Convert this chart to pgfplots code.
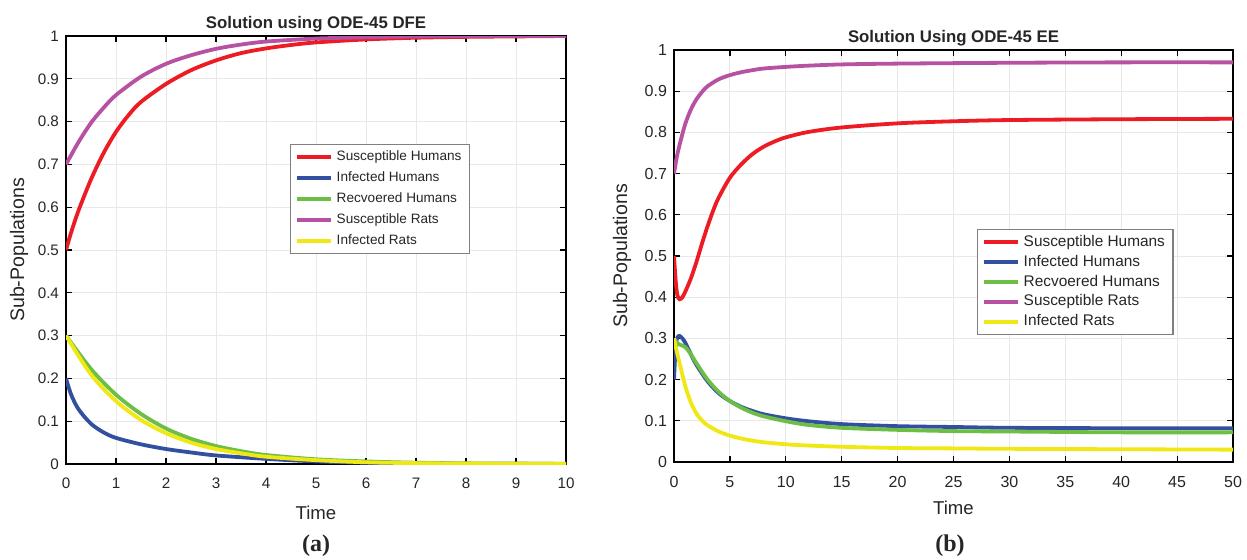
\documentclass[border=0pt]{standalone}
\usepackage{pgfplots}
\pgfplotsset{compat=1.18}
\usepackage{fontspec}
\setmainfont{Liberation Sans}
\newfontfamily\serifb{Liberation Serif}
\definecolor{cS}{RGB}{237,28,36}
\definecolor{cI}{RGB}{51,79,160}
\definecolor{cR}{RGB}{108,190,69}
\definecolor{cSR}{RGB}{183,82,162}
\definecolor{cIR}{RGB}{240,232,20}
\pgfplotsset{
  matstyle/.style={
    scale only axis,
    axis line style={black, line width=0.6pt},
    tick style={black, line width=0.6pt},
    tick align=inside,
    major tick length=3pt,
    xtick pos=both, ytick pos=both,
    grid=major,
    major grid style={gray!18, line width=0.5pt},
    ymin=0, ymax=1,
    ytick={0,0.1,...,1.0},
    yticklabels={0,0.1,0.2,0.3,0.4,0.5,0.6,0.7,0.8,0.9,1},
    tick label style={text=black!85},
    xticklabel style={yshift=-3.5pt},
    /pgf/number format/assume math mode=true,
    xlabel style={font=\fontsize{9.3}{10}\selectfont, text=black!85},
    ylabel style={font=\fontsize{9.8}{10}\selectfont, text=black!85},
    title style={font=\fontsize{8.4}{9}\selectfont\bfseries, text=black!85,
      at={(axis description cs:0.5,1)}, anchor=center},
    ylabel={Sub-Populations},
    xlabel={Time},
    legend cell align=left,
    legend style={draw=gray, line width=0.6pt, fill=white, text=black!85,
      inner xsep=2pt, inner ysep=1pt},
    legend image code/.code={\draw[line width=2pt] (0cm,0cm) -- (0.6cm,0cm);},
    every axis plot/.append style={line width=1.9pt, no marks, smooth},
  }
}
\begin{document}
\begin{tikzpicture}
\useasboundingbox (0,0) rectangle (623.5pt,279.5pt);
% (a)
\begin{axis}[matstyle,
  at={(33pt,47.5pt)}, anchor=origin,
  width=250pt, height=214pt,
  xmin=0, xmax=10, xtick={0,1,...,10},
  title={Solution using ODE-45 DFE},
  tick label style={font=\fontsize{7.6}{8}\selectfont},
  xlabel style={at={(axis description cs:0.5,-0.115)}, anchor=center},
  ylabel style={at={(axis description cs:-0.094,0.5)}, anchor=center},
  legend style={at={(axis description cs:0.448,0.748)}, anchor=north west,
    font=\fontsize{6.8}{8}\selectfont, row sep=0.1pt},
]
\addplot[cS] coordinates {(0,0.5) (0.1,0.54) (0.25,0.592) (0.5,0.665) (0.75,0.726) (1,0.776) (1.25,0.815) (1.5,0.846) (2,0.888) (2.5,0.92) (3,0.943) (3.5,0.96) (4,0.971) (4.5,0.979) (5,0.985) (6,0.992) (7,0.996) (8,0.998) (9,0.999) (10,1.0)};
\addplot[cI] coordinates {(0,0.2) (0.1,0.163) (0.25,0.128) (0.5,0.094) (0.75,0.074) (1,0.061) (1.5,0.046) (2,0.035) (2.5,0.027) (3,0.020) (4,0.012) (5,0.006) (6,0.003) (7,0.0015) (8,0.0007) (10,0.0002)};
\addplot[cR] coordinates {(0,0.3) (0.5,0.222) (1,0.162) (1.5,0.117) (2,0.083) (2.5,0.059) (3,0.042) (3.5,0.030) (4,0.021) (5,0.011) (6,0.006) (7,0.003) (8,0.0015) (10,0.0005)};
\addplot[cSR] coordinates {(0,0.7) (0.25,0.752) (0.5,0.797) (0.75,0.832) (1,0.862) (1.5,0.905) (2,0.935) (2.5,0.955) (3,0.970) (3.5,0.980) (4,0.987) (5,0.994) (6,0.997) (7,0.999) (8,1.0) (10,1.0)};
\addplot[cIR] coordinates {(0,0.3) (0.5,0.209) (1,0.147) (1.5,0.103) (2,0.072) (2.5,0.050) (3,0.035) (3.5,0.025) (4,0.017) (5,0.009) (6,0.004) (7,0.002) (8,0.001) (10,0.0003)};
\legend{Susceptible Humans, Infected Humans, Recvoered Humans, Susceptible Rats, Infected Rats}
\end{axis}
% (b)
\begin{axis}[matstyle,
  at={(337pt,48.5pt)}, anchor=origin,
  width=279.5pt, height=206pt,
  xmin=0, xmax=50, xtick={0,5,...,50},
  title={Solution Using ODE-45 EE},
  tick label style={font=\fontsize{8}{9}\selectfont},
  xlabel style={at={(axis description cs:0.5,-0.112)}, anchor=center},
  ylabel style={at={(axis description cs:-0.093,0.5)}, anchor=center},
  legend style={at={(axis description cs:0.542,0.566)}, anchor=north west,
    font=\fontsize{7.7}{9}\selectfont, row sep=-1.2pt},
]
\addplot[cS] coordinates {(0,0.5) (0.15,0.44) (0.3,0.405) (0.5,0.395) (0.75,0.40) (1,0.413) (1.5,0.445) (2,0.485) (2.5,0.53) (3,0.572) (3.5,0.61) (4,0.642) (5,0.69) (6,0.722) (7,0.747) (8,0.765) (9,0.778) (10,0.788) (12,0.801) (15,0.812) (20,0.822) (25,0.827) (30,0.830) (40,0.832) (50,0.833)};
\addplot[cI] coordinates {(0,0.2) (0.15,0.28) (0.3,0.302) (0.5,0.306) (0.75,0.30) (1,0.29) (1.5,0.262) (2,0.236) (3,0.196) (4,0.167) (5,0.148) (6,0.134) (7,0.124) (8,0.116) (10,0.106) (12,0.099) (15,0.092) (20,0.087) (25,0.085) (30,0.083) (40,0.082) (50,0.082)};
\addplot[cR] coordinates {(0,0.3) (0.3,0.288) (0.6,0.284) (1,0.279) (1.5,0.262) (2,0.24) (3,0.2) (4,0.17) (5,0.148) (6,0.132) (7,0.12) (8,0.111) (10,0.099) (12,0.09) (15,0.083) (20,0.078) (25,0.075) (30,0.074) (40,0.072) (50,0.072)};
\addplot[cSR] coordinates {(0,0.7) (0.25,0.74) (0.5,0.77) (1,0.82) (1.5,0.855) (2,0.88) (2.5,0.898) (3,0.912) (4,0.929) (5,0.939) (6,0.946) (7,0.951) (8,0.955) (10,0.959) (12,0.962) (15,0.965) (20,0.967) (30,0.969) (40,0.97) (50,0.97)};
\addplot[cIR] coordinates {(0,0.3) (0.25,0.268) (0.5,0.24) (1,0.185) (1.5,0.145) (2,0.118) (2.5,0.101) (3,0.089) (4,0.074) (5,0.064) (6,0.057) (7,0.052) (8,0.048) (10,0.043) (12,0.04) (15,0.037) (20,0.034) (25,0.033) (30,0.032) (40,0.031) (50,0.03)};
\legend{Susceptible Humans, Infected Humans, Recvoered Humans, Susceptible Rats, Infected Rats}
\end{axis}
\node[font=\serifb\bfseries\fontsize{12}{14}\selectfont, text=black!85] at (158pt,6.5pt) {(a)};
\node[font=\serifb\bfseries\fontsize{12}{14}\selectfont, text=black!85] at (475pt,6.5pt) {(b)};
\end{tikzpicture}
\end{document}
